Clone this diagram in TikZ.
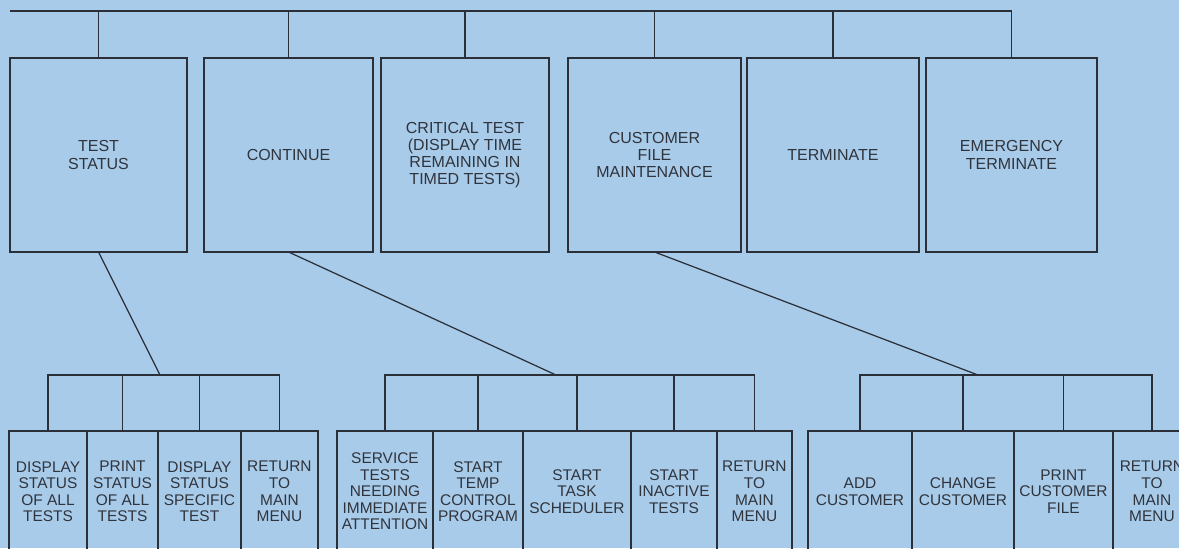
\documentclass[tikz,border=0pt]{standalone}
\usepackage{fontspec}
\setmainfont{Liberation Sans}
\usepackage{tikz}
\usetikzlibrary{positioning}
\definecolor{ChartBlue}{HTML}{A8CBEA}
\definecolor{ChartInk}{HTML}{2B3038}
\definecolor{ChartText}{HTML}{30343C}

\begin{document}
\begin{tikzpicture}[x=0.02cm, y=-0.02cm, node distance=0pt,
  every node/.style={align=center, text=ChartText, inner sep=1pt, outer sep=0pt},
  menubox/.style={draw=ChartInk, line width=1.15pt, minimum height=3.88cm, font=\fontsize{9.1}{9.8}\selectfont},
  subbox/.style={draw=ChartInk, line width=1.15pt, minimum height=2.42cm, font=\fontsize{8.8}{9.4}\selectfont},
  link/.style={draw=ChartInk, line width=0.7pt}]
  \useasboundingbox (0,0) rectangle (1179,548);
  \clip (0,0) rectangle (1179,548);
  \fill[ChartBlue] (0,0) rectangle (1179,548);

  % main menu
  \node[menubox, minimum width=3.54cm] (tstatus) at (98.5,155) {TEST\\STATUS};
  \node[menubox, minimum width=3.38cm] (cont) at (288.5,155) {CONTINUE};
  \node[menubox, minimum width=3.36cm] (crit) at (465,155) {CRITICAL TEST\\(DISPLAY TIME\\REMAINING IN\\TIMED TESTS)};
  \node[menubox, minimum width=3.46cm] (custfile) at (654.5,155) {CUSTOMER\\FILE\\MAINTENANCE};
  \node[menubox, minimum width=3.44cm] (term) at (833,155) {TERMINATE};
  \node[menubox, minimum width=3.42cm] (eterm) at (1011.5,155) {EMERGENCY\\TERMINATE};

  % test status menu
  \node[subbox, minimum width=1.56cm] (dispall) at (48,491.5) {DISPLAY\\STATUS\\OF ALL\\TESTS};
  \node[subbox, minimum width=1.42cm, right=of dispall] (printall) {PRINT\\STATUS\\OF ALL\\TESTS};
  \node[subbox, minimum width=1.66cm, right=of printall] (dispone) {DISPLAY\\STATUS\\SPECIFIC\\TEST};
  \node[subbox, minimum width=1.54cm, right=of dispone] (retA) {RETURN\\TO\\MAIN\\MENU};

  % continue menu
  \node[subbox, minimum width=1.92cm] (service) at (385,491.5) {SERVICE\\TESTS\\NEEDING\\IMMEDIATE\\ATTENTION};
  \node[subbox, minimum width=1.80cm, right=of service] (tempctl) {START\\TEMP\\CONTROL\\PROGRAM};
  \node[subbox, minimum width=2.16cm, right=of tempctl] (tasksch) {START\\TASK\\SCHEDULER};
  \node[subbox, minimum width=1.72cm, right=of tasksch] (inactive) {START\\INACTIVE\\TESTS};
  \node[subbox, minimum width=1.50cm, right=of inactive] (retB) {RETURN\\TO\\MAIN\\MENU};

  % customer file menu
  \node[subbox, minimum width=2.08cm] (addcust) at (860,491.5) {ADD\\CUSTOMER};
  \node[subbox, minimum width=2.04cm, right=of addcust] (chgcust) {CHANGE\\CUSTOMER};
  \node[subbox, minimum width=1.98cm, right=of chgcust] (printcust) {PRINT\\CUSTOMER\\FILE};
  \node[subbox, minimum width=1.56cm, right=of printcust] (retC) {RETURN\\TO\\MAIN\\MENU};

  % top bar
  \coordinate (barstart) at (10,11);
  \draw[link] (barstart) -| (eterm.north);
  \foreach \n in {tstatus,cont,crit,custfile,term}
    \draw[link] (\n.north) -- (\n.north |- barstart);

  % sub menu bars
  \coordinate (joinA) at (160,375);
  \coordinate (joinB) at (556,375);
  \coordinate (joinC) at (978,375);
  \draw[link] (tstatus.south) -- (joinA);
  \draw[link] (cont.south) -- (joinB);
  \draw[link] (custfile.south) -- (joinC);
  \draw[link] (dispall.north) |- (joinA) -| (retA.north);
  \draw[link] (service.north) |- (joinB) -| (retB.north);
  \draw[link] (addcust.north) |- (joinC) -| (retC.north);
  \foreach \n in {printall,dispone,tempctl,tasksch,inactive,chgcust,printcust}
    \draw[link] (\n.north) -- (\n.north |- joinA);
\end{tikzpicture}
\end{document}
